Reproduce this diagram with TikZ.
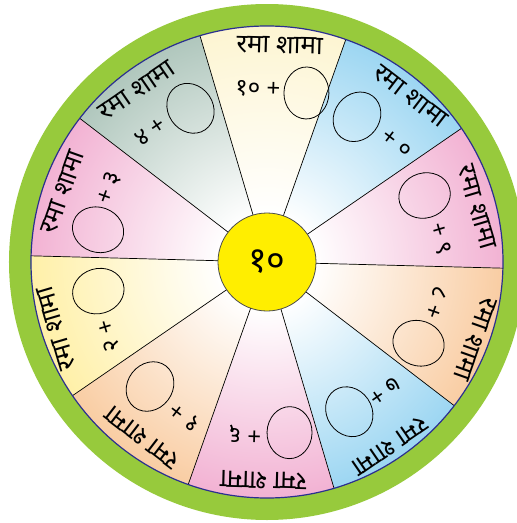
\documentclass[tikz,border=0pt]{standalone}
\usepackage{fontspec}
\newfontfamily\deva[Script=Devanagari]{Noto Sans}
\usetikzlibrary{shapes.geometric}

\definecolor{ringgreen}{HTML}{97CA3C}
\definecolor{rimblue}{HTML}{2B2F8F}
\definecolor{hubyellow}{HTML}{FFEE00}
\definecolor{cream}{HTML}{FDF5D2}
\definecolor{skyblue}{HTML}{9CD6F2}
\definecolor{rosepink}{HTML}{F2B2D3}
\definecolor{peach}{HTML}{F9CDA3}
\definecolor{lemon}{HTML}{FFF0A8}
\definecolor{sage}{HTML}{B0C7BD}
\colorlet{sectorcol}{white}
\pgfdeclareradialshading[sectorcol]{sectorfade}{\pgfpointorigin}{color(0bp)=(white); color(5bp)=(white); color(25bp)=(sectorcol); color(50bp)=(sectorcol)}

\begin{document}
\begin{tikzpicture}[x=1pt, y=1pt,
    rhyme/.style={font=\deva\fontsize{26}{28}\selectfont, inner sep=0pt, transform shape},
    sum/.style={font=\deva\fontsize{24}{26}\selectfont, inner sep=0pt, transform shape},
    oval/.style={ellipse, draw, line width=0.8pt, minimum width=45pt, minimum height=52pt, inner sep=0pt, transform shape},
    spoke/.style={line width=0.7pt},
    hub/.style={circle, draw=black!70, line width=0.8pt, fill=hubyellow, minimum size=98pt, inner sep=0pt, font=\deva\fontsize{36}{38}\selectfont}
]
\useasboundingbox (-267,-261) rectangle (250,262);
\fill[ringgreen] (0,0) circle (258);

% coloured sectors
\foreach \k/\col in {0/cream, 1/skyblue, 2/rosepink, 3/peach, 4/skyblue, 5/rosepink, 6/peach, 7/lemon, 8/rosepink, 9/sage} {
  \pgfmathsetmacro{\a}{90-36*\k-1.5}
  \begin{scope}
    \colorlet{sectorcol}{\col}
    \clip (0,0) -- (\a+18:236) arc[start angle=\a+18, end angle=\a-18, radius=236] -- cycle;
    \shade[shading=sectorfade] (0,0) circle (236);
  \end{scope}
}
\foreach \k in {0,...,9}
  \draw[spoke] (0,0) -- (90-36*\k-1.5+18:236);
\draw[rimblue, line width=1.2pt] (0,0) circle (236);
\node[hub] (hub) at (0,0) {१०};

% texts of each sector
\foreach \k/\sumtxt/\ox/\sx/\anc/\rx/\ry in {
    0/{१० +}/35/9/east/7/217, 1/{+ ०}/-17/14/west/13/219,
    2/{+ ९}/-19/11/west/7/217, 3/{८ +}/26/-2/east/3/222,
    4/{७ +}/17/-7/east/3/221, 5/{+ ६}/-27/1/west/-2/218,
    6/{१ +}/17/-13/east/-8/215, 7/{२ +}/20/-10/east/-4/221,
    8/{+ ३}/-26/1/west/-2/216, 9/{४ +}/24/-6/east/-10/215} {
  \begin{scope}[rotate=-36*\k-1.5]
    \node[rhyme] (rhyme\k) at (\rx,\ry) {रमा शामा};
    \node[oval] (oval\k) at (\ox,170) {};
    \node[sum, anchor=\anc] (sum\k) at (\sx,173) {\sumtxt};
  \end{scope}
}
\end{tikzpicture}
\end{document}
